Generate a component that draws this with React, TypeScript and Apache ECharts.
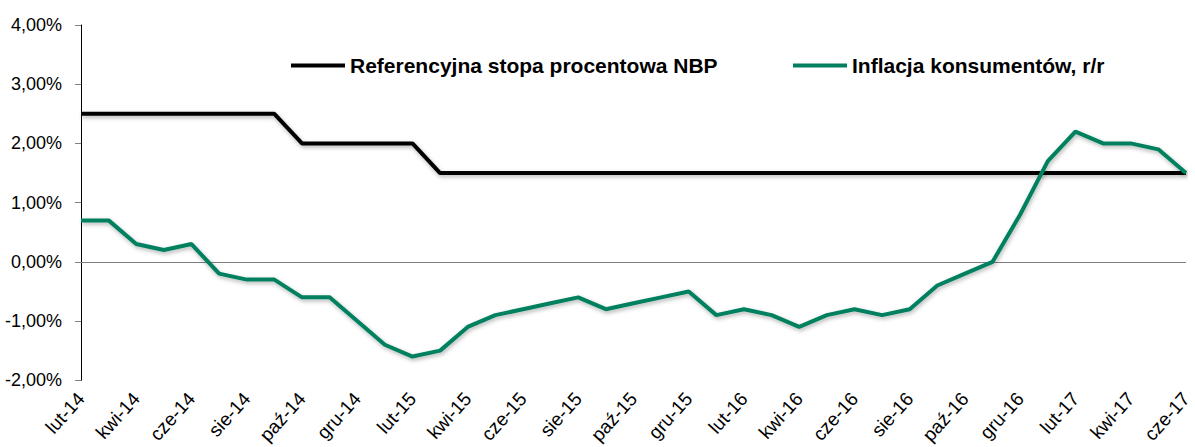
import React, { useEffect, useRef } from "react";
import * as echarts from "echarts";

const months: string[] = [
  "lut-14", "mar-14", "kwi-14", "maj-14", "cze-14", "lip-14", "sie-14", "wrz-14", "paź-14", "lis-14", "gru-14",
  "sty-15", "lut-15", "mar-15", "kwi-15", "maj-15", "cze-15", "lip-15", "sie-15", "wrz-15", "paź-15", "lis-15", "gru-15",
  "sty-16", "lut-16", "mar-16", "kwi-16", "maj-16", "cze-16", "lip-16", "sie-16", "wrz-16", "paź-16", "lis-16", "gru-16",
  "sty-17", "lut-17", "mar-17", "kwi-17", "maj-17", "cze-17",
];

const refRate: number[] = [
  2.5, 2.5, 2.5, 2.5, 2.5, 2.5, 2.5, 2.5, 2.0, 2.0, 2.0,
  2.0, 2.0, 1.5, 1.5, 1.5, 1.5, 1.5, 1.5, 1.5, 1.5, 1.5, 1.5,
  1.5, 1.5, 1.5, 1.5, 1.5, 1.5, 1.5, 1.5, 1.5, 1.5, 1.5, 1.5,
  1.5, 1.5, 1.5, 1.5, 1.5, 1.5,
];

const inflation: number[] = [
  0.7, 0.7, 0.3, 0.2, 0.3, -0.2, -0.3, -0.3, -0.6, -0.6, -1.0,
  -1.4, -1.6, -1.5, -1.1, -0.9, -0.8, -0.7, -0.6, -0.8, -0.7, -0.6, -0.5,
  -0.9, -0.8, -0.9, -1.1, -0.9, -0.8, -0.9, -0.8, -0.4, -0.2, 0.0, 0.8,
  1.7, 2.2, 2.0, 2.0, 1.9, 1.5,
];

const seriesNames: string[] = ["Referencyjna stopa procentowa NBP", "Inflacja konsumentów, r/r"];

const FONT = '"Liberation Sans", Arial, sans-serif';
const GREEN = "#00805f";

export default function App() {
  const ref = useRef<HTMLDivElement>(null);
  useEffect(() => {
    if (!ref.current) return;
    const chart = echarts.init(ref.current, undefined, { renderer: "svg" });
    const shadow = {
      shadowColor: "rgba(0,0,0,0.3)",
      shadowBlur: 4,
      shadowOffsetX: 1,
      shadowOffsetY: 2,
    };
    const legendText = { fontFamily: FONT, fontSize: 21, fontWeight: "bold", color: "#000" };
    chart.setOption({
      animation: false,
      backgroundColor: "#ffffff",
      grid: { left: 81, right: 8, top: 25, bottom: 64 },
      legend: [
        {
          data: [{ name: seriesNames[0], icon: "rect" }],
          left: 286,
          top: 50,
          itemWidth: 54,
          itemHeight: 4,
          itemGap: 6,
          textStyle: legendText,
        },
        {
          data: [{ name: seriesNames[1], icon: "rect" }],
          left: 788,
          top: 50,
          itemWidth: 54,
          itemHeight: 4,
          textStyle: legendText,
        },
      ],
      xAxis: {
        type: "category",
        data: months,
        boundaryGap: false,
        axisLine: { show: false },
        axisTick: { show: false },
        axisLabel: {
          interval: 1,
          rotate: 48,
          margin: 15,
          fontFamily: FONT,
          fontSize: 19,
          color: "#000",
        },
        splitLine: { show: false },
      },
      yAxis: {
        type: "value",
        min: -2,
        max: 4,
        interval: 1,
        axisLine: { show: true, lineStyle: { color: "#000", width: 1 } },
        axisTick: { show: true, length: 6, lineStyle: { color: "#808080" } },
        axisLabel: {
          margin: 19,
          fontFamily: FONT,
          fontSize: 18,
          color: "#000",
          formatter: (v: number) => v.toFixed(2).replace(".", ",") + "%",
        },
        splitLine: { show: false },
      },
      series: [
        {
          name: seriesNames[0],
          type: "line",
          data: refRate,
          showSymbol: false,
          symbol: "none",
          color: "#000",
          lineStyle: { color: "#000", width: 4, ...shadow },
          markLine: {
            silent: true,
            symbol: "none",
            label: { show: false },
            lineStyle: { color: "#7f7f7f", width: 1, type: "solid" },
            data: [{ yAxis: 0 }],
            z: 1,
          },
          z: 3,
        },
        {
          name: seriesNames[1],
          type: "line",
          data: inflation,
          showSymbol: false,
          symbol: "none",
          color: GREEN,
          lineStyle: { color: GREEN, width: 4, ...shadow },
          z: 4,
        },
      ],
    });
    return () => chart.dispose();
  }, []);
  return (
    <div
      ref={ref}
      style={{ position: "fixed", left: 0, top: 0, width: 1195, height: 447 }}
    />
  );
}
